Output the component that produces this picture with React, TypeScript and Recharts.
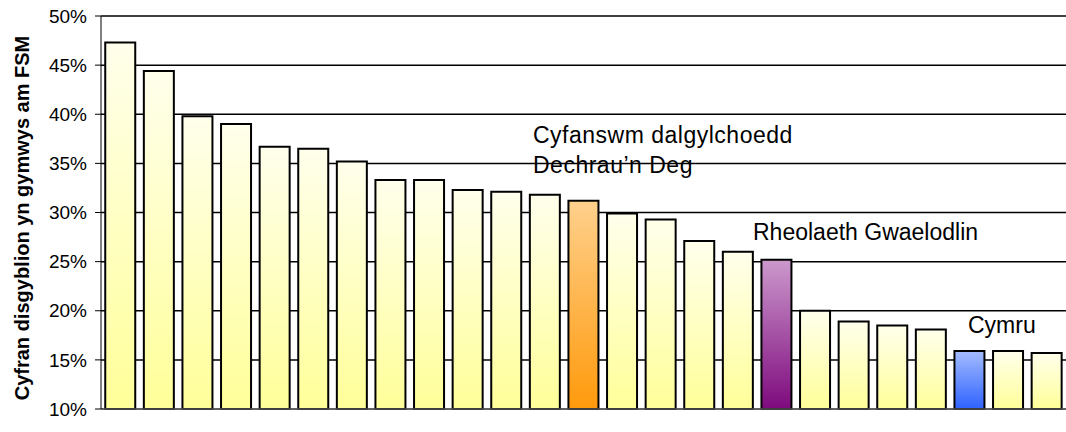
import { Bar, BarChart, CartesianGrid, Cell, Customized, XAxis, YAxis } from "recharts"

const areas = [
  "A1", "A2", "A3", "A4", "A5", "A6", "A7", "A8", "A9", "A10", "A11", "A12", "A13",
  "A14", "A15", "A16", "A17", "A18", "A19", "A20", "A21", "A22", "A23", "A24", "A25",
]
const fsmShare = [
  47.3, 44.4, 39.8, 39.0, 36.7, 36.5, 35.2, 33.3, 33.3, 32.3, 32.1, 31.8, 31.2,
  29.9, 29.3, 27.1, 26.0, 25.2, 20.0, 18.9, 18.5, 18.1, 15.9, 15.9, 15.7,
]
// which gradient each bar uses
const barKind = [
  "y", "y", "y", "y", "y", "y", "y", "y", "y", "y", "y", "y", "o",
  "y", "y", "y", "y", "p", "y", "y", "y", "y", "b", "y", "y",
]
const yTicks = [10, 15, 20, 25, 30, 35, 40, 45, 50]

const data = areas.map((name, i) => ({ name, value: fsmShare[i], kind: barKind[i] }))

const font = "'Liberation Sans', Arial, sans-serif"

const gradients: Record<string, [string, string]> = {
  y: ["#FFFFEC", "#FFFF99"],
  o: ["#FFD08C", "#FF9A0C"],
  p: ["#CC99CC", "#7E0A7E"],
  b: ["#A4BCFF", "#2F62FF"],
}

function Notes() {
  return (
    <g fontFamily={font} fontSize={23} fill="#000">
      <text x={533} y={143} letterSpacing={0.5}>Cyfanswm dalgylchoedd</text>
      <text x={533} y={173} letterSpacing={0.5}>Dechrau’n Deg</text>
      <text x={753} y={240}>Rheolaeth Gwaelodlin</text>
      <text x={968} y={333}>Cymru</text>
      <text
        x={29}
        y={218}
        transform="rotate(-90 29 218)"
        textAnchor="middle"
        fontSize={20}
        fontWeight="bold"
      >
        Cyfran disgyblion yn gymwys am FSM
      </text>
    </g>
  )
}

export default function App() {
  return (
    <div style={{ position: "absolute", left: 0, top: 0, background: "#fff" }}>
      <BarChart
        width={1066}
        height={432}
        data={data}
        margin={{ top: 16, right: 0, bottom: 22, left: 0 }}
        barCategoryGap="11%"
      >
        <defs>
          {Object.entries(gradients).map(([k, [top, bottom]]) => (
            <linearGradient key={k} id={`grad-${k}`} x1="0" y1="0" x2="0" y2="1">
              <stop offset="0%" stopColor={top} />
              <stop offset="100%" stopColor={bottom} />
            </linearGradient>
          ))}
        </defs>
        <CartesianGrid vertical={false} stroke="#000" strokeWidth={1.5} />
        <XAxis dataKey="name" tick={false} tickLine={false} height={1} axisLine={{ stroke: "#808080" }} />
        <YAxis
          width={101}
          domain={[10, 50]}
          ticks={yTicks}
          interval={0}
          tickFormatter={(v) => `${v}%`}
          tick={{ fill: "#000", fontSize: 19, fontFamily: font }}
          tickSize={6}
          tickMargin={8}
          tickLine={{ stroke: "#000" }}
          axisLine={{ stroke: "#000" }}
        />
        <Bar dataKey="value" stroke="#000" strokeWidth={2} isAnimationActive={false}>
          {data.map((d) => (
            <Cell key={d.name} fill={`url(#grad-${d.kind})`} />
          ))}
        </Bar>
        <Customized component={Notes} />
      </BarChart>
    </div>
  )
}
